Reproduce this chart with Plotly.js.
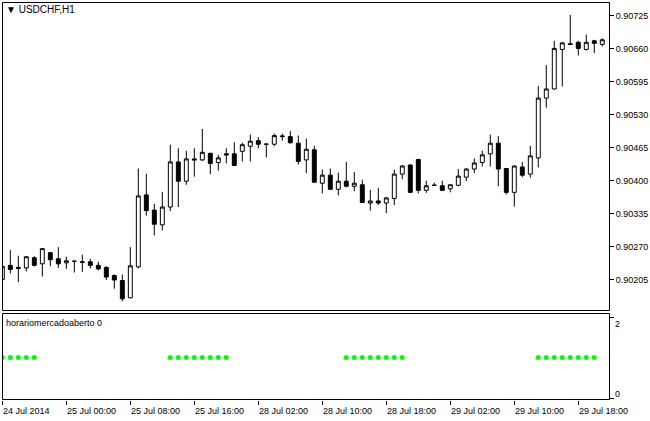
<!DOCTYPE html>
<html>
<head>
<meta charset="utf-8">
<script src="https://cdn.plot.ly/plotly-3.0.1.min.js"></script>
<style>html,body{margin:0;padding:0;background:#fff;}#chart{width:650px;height:421px;}</style>
</head>
<body>
<div id="chart"></div>
<script>
// Hourly bars, USDCHF H1 (24 Jul 2014 16:00 .. 29 Jul 2014 21:00)
const times = [
"2014.07.24 16:00","2014.07.24 17:00","2014.07.24 18:00","2014.07.24 19:00","2014.07.24 20:00","2014.07.24 21:00","2014.07.24 22:00","2014.07.24 23:00",
"2014.07.25 00:00","2014.07.25 01:00","2014.07.25 02:00","2014.07.25 03:00","2014.07.25 04:00","2014.07.25 05:00","2014.07.25 06:00","2014.07.25 07:00",
"2014.07.25 08:00","2014.07.25 09:00","2014.07.25 10:00","2014.07.25 11:00","2014.07.25 12:00","2014.07.25 13:00","2014.07.25 14:00","2014.07.25 15:00",
"2014.07.25 16:00","2014.07.25 17:00","2014.07.25 18:00","2014.07.25 19:00","2014.07.25 20:00","2014.07.25 21:00",
"2014.07.28 00:00","2014.07.28 01:00","2014.07.28 02:00","2014.07.28 03:00","2014.07.28 04:00","2014.07.28 05:00","2014.07.28 06:00","2014.07.28 07:00",
"2014.07.28 08:00","2014.07.28 09:00","2014.07.28 10:00","2014.07.28 11:00","2014.07.28 12:00","2014.07.28 13:00","2014.07.28 14:00","2014.07.28 15:00",
"2014.07.28 16:00","2014.07.28 17:00","2014.07.28 18:00","2014.07.28 19:00","2014.07.28 20:00","2014.07.28 21:00","2014.07.28 22:00","2014.07.28 23:00",
"2014.07.29 00:00","2014.07.29 01:00","2014.07.29 02:00","2014.07.29 03:00","2014.07.29 04:00","2014.07.29 05:00","2014.07.29 06:00","2014.07.29 07:00",
"2014.07.29 08:00","2014.07.29 09:00","2014.07.29 10:00","2014.07.29 11:00","2014.07.29 12:00","2014.07.29 13:00","2014.07.29 14:00","2014.07.29 15:00",
"2014.07.29 16:00","2014.07.29 17:00","2014.07.29 18:00","2014.07.29 19:00","2014.07.29 20:00","2014.07.29 21:00"
];

const open = [
0.90205,0.90233,0.90229,0.90228,0.90248,0.90236,0.90258,0.90246,0.90238,0.90241,
0.90240,0.90240,0.90233,0.90229,0.90213,0.90203,0.90169,0.90230,0.90372,0.90342,
0.90313,0.90348,0.90437,0.90399,0.90443,0.90441,0.90454,0.90436,0.90453,0.90453,
0.90458,0.90468,0.90479,0.90472,0.90472,0.90487,0.90487,0.90474,0.90441,0.90461,
0.90395,0.90411,0.90383,0.90399,0.90389,0.90392,0.90356,0.90360,0.90356,0.90365,
0.90413,0.90431,0.90442,0.90381,0.90391,0.90390,0.90384,0.90391,0.90407,0.90423,
0.90436,0.90453,0.90474,0.90424,0.90377,0.90427,0.90413,0.90445,0.90563,0.90581,
0.90659,0.90670,0.90673,0.90659,0.90676,0.90669
];
const high = [
0.90232,0.90263,0.90252,0.90251,0.90251,0.90266,0.90259,0.90269,0.90250,0.90243,
0.90254,0.90246,0.90240,0.90231,0.90215,0.90215,0.90269,0.90424,0.90414,0.90354,
0.90378,0.90471,0.90464,0.90459,0.90464,0.90502,0.90455,0.90451,0.90464,0.90476,
0.90475,0.90491,0.90486,0.90474,0.90493,0.90493,0.90498,0.90489,0.90483,0.90469,
0.90422,0.90424,0.90416,0.90437,0.90417,0.90402,0.90382,0.90386,0.90368,0.90422,
0.90431,0.90432,0.90443,0.90400,0.90396,0.90400,0.90392,0.90423,0.90425,0.90444,
0.90459,0.90491,0.90488,0.90425,0.90430,0.90437,0.90469,0.90587,0.90628,0.90676,
0.90673,0.90727,0.90676,0.90688,0.90678,0.90681
];
const low = [
0.90204,0.90217,0.90200,0.90221,0.90231,0.90211,0.90231,0.90228,0.90226,0.90219,
0.90220,0.90227,0.90223,0.90204,0.90187,0.90162,0.90168,0.90227,0.90331,0.90292,
0.90302,0.90340,0.90348,0.90392,0.90408,0.90439,0.90413,0.90420,0.90434,0.90429,
0.90438,0.90438,0.90464,0.90446,0.90468,0.90479,0.90473,0.90432,0.90415,0.90396,
0.90375,0.90382,0.90371,0.90387,0.90379,0.90356,0.90341,0.90352,0.90336,0.90352,
0.90403,0.90376,0.90375,0.90376,0.90390,0.90380,0.90377,0.90389,0.90399,0.90415,
0.90428,0.90428,0.90389,0.90373,0.90349,0.90407,0.90406,0.90426,0.90544,0.90580,
0.90586,0.90668,0.90647,0.90657,0.90652,0.90665
];
const close = [
0.90231,0.90225,0.90227,0.90250,0.90233,0.90266,0.90244,0.90236,0.90242,0.90241,
0.90239,0.90233,0.90226,0.90210,0.90204,0.90167,0.90232,0.90370,0.90341,0.90314,
0.90348,0.90437,0.90399,0.90443,0.90441,0.90456,0.90434,0.90445,0.90451,0.90430,
0.90471,0.90478,0.90472,0.90472,0.90489,0.90488,0.90475,0.90438,0.90462,0.90397,
0.90411,0.90383,0.90399,0.90389,0.90395,0.90357,0.90360,0.90356,0.90366,0.90413,
0.90429,0.90377,0.90381,0.90390,0.90391,0.90381,0.90392,0.90409,0.90423,0.90435,
0.90451,0.90474,0.90423,0.90377,0.90429,0.90411,0.90449,0.90563,0.90581,0.90661,
0.90672,0.90669,0.90661,0.90673,0.90671,0.90678
];

// indicator "horariomercadoaberto": 1 during open-market hours, empty otherwise
const n = null;
const signal = [
1,1,1,1,1,n,n,n,
n,n,n,n,n,n,n,n,n,n,n,n,n,1,1,1,1,1,1,1,1,n,
n,n,n,n,n,n,n,n,n,n,n,n,n,1,1,1,1,1,1,1,1,n,n,n,
n,n,n,n,n,n,n,n,n,n,n,n,n,1,1,1,1,1,1,1,1,n
];

const priceTicks = [0.90205,0.90270,0.90335,0.90400,0.90465,0.90530,0.90595,0.90660,0.90725];
const priceTickText = ["0.90205","0.90270","0.90335","0.90400","0.90465","0.90530","0.90595","0.90660","0.90725"];
const timeTickAt = ["2014.07.24 16:00","2014.07.25 00:00","2014.07.25 08:00","2014.07.25 16:00","2014.07.28 02:00",
                    "2014.07.28 10:00","2014.07.28 18:00","2014.07.29 02:00","2014.07.29 10:00","2014.07.29 18:00"];
const timeTickText = ["24 Jul 2014","25 Jul 00:00","25 Jul 08:00","25 Jul 16:00","28 Jul 02:00",
                      "28 Jul 10:00","28 Jul 18:00","29 Jul 02:00","29 Jul 10:00","29 Jul 18:00"];

const FONT = "'Liberation Sans', Arial, sans-serif";
const PW = 607, PH = 398;             // plot area size in px
const mainBottom = 1 - 308.5 / PH;    // frame line on pixel row 310
const subTop = 1 - 311.5 / PH;        // frame line on pixel row 313
const hx = 0.5 / PW, hy = 0.5 / PH;   // half-pixel offsets for crisp frame lines

const traces = [
  {
    type: 'candlestick', x: times, open: open, high: high, low: low, close: close,
    xaxis: 'x', yaxis: 'y',
    increasing: {line: {color: '#000', width: 1}, fillcolor: '#fff'},
    decreasing: {line: {color: '#000', width: 1}, fillcolor: '#000'},
    whiskerwidth: 0, hoverinfo: 'skip', showlegend: false
  },
  {
    type: 'scatter', mode: 'markers', x: times, y: signal,
    xaxis: 'x', yaxis: 'y2',
    marker: {color: '#00ff00', size: 5, line: {width: 0}},
    hoverinfo: 'skip', showlegend: false
  }
];

const annotations = timeTickText.map((t, k) => ({
  text: t, x: times.indexOf(timeTickAt[k]), xref: 'x', y: 0, yref: 'paper',
  xanchor: 'left', yanchor: 'top', yshift: -4, xshift: -1, showarrow: false,
  font: {family: FONT, size: 9, color: '#000'}
}));
annotations.push({
  text: '▼ USDCHF,H1', x: 0, xref: 'paper', y: 1, yref: 'paper',
  xanchor: 'left', yanchor: 'top', xshift: 2, yshift: 0, showarrow: false,
  font: {family: FONT, size: 10, color: '#000'}
});
annotations.push({
  text: 'horariomercadoaberto 0', x: 0, xref: 'paper', y: subTop, yref: 'paper',
  xanchor: 'left', yanchor: 'top', xshift: 2, yshift: -2, showarrow: false,
  font: {family: FONT, size: 9, color: '#000'}
});
annotations.push({
  text: '2', x: 1, xref: 'paper', y: 2, yref: 'y2',
  xanchor: 'left', yanchor: 'top', xshift: 4, yshift: 0, showarrow: false,
  font: {family: FONT, size: 9, color: '#000'}
});
annotations.push({
  text: '0', x: 1, xref: 'paper', y: 0, yref: 'y2',
  xanchor: 'left', yanchor: 'bottom', xshift: 4, yshift: -3, showarrow: false,
  font: {family: FONT, size: 9, color: '#000'}
});

const layout = {
  width: 650, height: 421,
  margin: {l: 2, r: 41, t: 2, b: 21, pad: 0},
  paper_bgcolor: '#fff', plot_bgcolor: '#fff',
  showlegend: false,
  font: {family: FONT, size: 9, color: '#000'},
  xaxis: {
    type: 'category', anchor: 'y2', range: [-0.04, 75.84],
    rangeslider: {visible: false},
    showgrid: false, zeroline: false, showline: false,
    tickmode: 'array', tickvals: timeTickAt, showticklabels: false,
    ticks: 'outside', ticklen: 4, tickcolor: '#000', tickwidth: 1,
    fixedrange: true
  },
  yaxis: {
    domain: [mainBottom, 1], side: 'right', anchor: 'x',
    range: [0.901439, 0.907526],
    tickmode: 'array', tickvals: priceTicks, ticktext: priceTickText,
    ticks: 'outside', ticklen: 4, tickcolor: '#000', tickwidth: 1,
    showgrid: false, zeroline: false, showline: false,
    tickfont: {family: FONT, size: 9, color: '#000'},
    fixedrange: true
  },
  yaxis2: {
    domain: [0, subTop], side: 'right', anchor: 'x',
    range: [-0.049, 2.091],
    tickmode: 'array', tickvals: [0, 2], showticklabels: false,
    ticks: 'outside', ticklen: 4, tickcolor: '#000', tickwidth: 1,
    showgrid: false, zeroline: false, showline: false,
    fixedrange: true
  },
  shapes: [
    {type: 'rect', xref: 'paper', yref: 'paper', x0: hx, x1: 1 + hx, y0: mainBottom, y1: 1 - hy,
     line: {color: '#000', width: 1}, fillcolor: 'rgba(0,0,0,0)', layer: 'above'},
    {type: 'rect', xref: 'paper', yref: 'paper', x0: hx, x1: 1 + hx, y0: hy, y1: subTop,
     line: {color: '#000', width: 1}, fillcolor: 'rgba(0,0,0,0)', layer: 'above'}
  ],
  annotations: annotations
};

Plotly.newPlot('chart', traces, layout, {displayModeBar: false, staticPlot: true});
</script>
</body>
</html>
